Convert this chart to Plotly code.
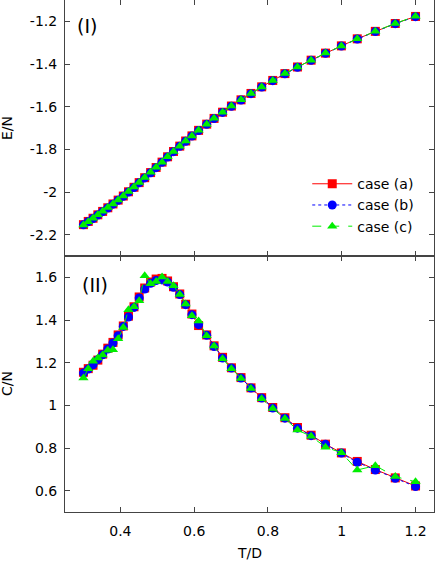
from plotly.subplots import make_subplots

# temperatures (T/D)
T = [0.300, 0.313, 0.326, 0.339, 0.352, 0.366, 0.380, 0.394, 0.408, 0.422,
     0.437, 0.451, 0.466, 0.482, 0.497, 0.513, 0.528, 0.544, 0.561, 0.577,
     0.594, 0.612, 0.634, 0.654, 0.677, 0.701, 0.727, 0.754, 0.783, 0.813,
     0.846, 0.880, 0.917, 0.956, 0.999, 1.042, 1.091, 1.145, 1.200]

# energy per spin
E_a = [-2.153, -2.138, -2.123, -2.107, -2.091, -2.074, -2.056, -2.038, -2.019, -1.999,
       -1.978, -1.956, -1.933, -1.909, -1.885, -1.860, -1.835, -1.810, -1.785, -1.761,
       -1.737, -1.711, -1.682, -1.655, -1.626, -1.597, -1.568, -1.538, -1.507, -1.477,
       -1.445, -1.414, -1.382, -1.349, -1.315, -1.282, -1.247, -1.210, -1.177]
E_b = [-2.154, -2.139, -2.124, -2.108, -2.092, -2.075, -2.057, -2.039, -2.020, -2.000,
       -1.979, -1.957, -1.934, -1.910, -1.886, -1.861, -1.836, -1.811, -1.786, -1.762,
       -1.738, -1.712, -1.683, -1.656, -1.627, -1.598, -1.569, -1.539, -1.508, -1.478,
       -1.446, -1.415, -1.383, -1.350, -1.316, -1.283, -1.248, -1.211, -1.178]
E_c = [-2.155, -2.139, -2.123, -2.107, -2.090, -2.073, -2.056, -2.038, -2.019, -1.998,
       -1.977, -1.955, -1.932, -1.908, -1.884, -1.860, -1.835, -1.810, -1.785, -1.761,
       -1.737, -1.711, -1.682, -1.654, -1.626, -1.597, -1.568, -1.538, -1.508, -1.477,
       -1.445, -1.414, -1.382, -1.349, -1.316, -1.282, -1.246, -1.210, -1.176]

# specific heat per spin
C_a = [1.155, 1.172, 1.188, 1.212, 1.240, 1.268, 1.295, 1.330, 1.372, 1.418,
       1.462, 1.508, 1.550, 1.578, 1.592, 1.595, 1.583, 1.556, 1.522, 1.474,
       1.428, 1.374, 1.330, 1.279, 1.225, 1.176, 1.130, 1.082, 1.036, 0.990,
       0.942, 0.896, 0.860, 0.818, 0.777, 0.737, 0.699, 0.660, 0.622]
C_b = [1.151, 1.170, 1.190, 1.214, 1.237, 1.264, 1.292, 1.326, 1.370, 1.414,
       1.459, 1.503, 1.545, 1.572, 1.585, 1.588, 1.578, 1.553, 1.519, 1.472,
       1.425, 1.378, 1.328, 1.276, 1.222, 1.175, 1.128, 1.081, 1.034, 0.987,
       0.940, 0.893, 0.858, 0.817, 0.776, 0.733, 0.697, 0.658, 0.619]
C_c = [1.128, 1.172, 1.207, 1.222, 1.236, 1.258, 1.260, 1.312, 1.365, 1.448,
       1.462, 1.490, 1.608, 1.570, 1.581, 1.602, 1.581, 1.561, 1.519, 1.475,
       1.420, 1.395, 1.326, 1.278, 1.218, 1.172, 1.126, 1.079, 1.031, 0.985,
       0.938, 0.884, 0.855, 0.804, 0.778, 0.697, 0.717, 0.666, 0.642]

x_ticks = [0.4, 0.6, 0.8, 1.0, 1.2]
x_ticktext = ["0.4", "0.6", "0.8", "1", "1.2"]
e_ticks = [-2.2, -2.0, -1.8, -1.6, -1.4, -1.2]
e_ticktext = ["-2.2", "-2", "-1.8", "-1.6", "-1.4", "-1.2"]
c_ticks = [0.6, 0.8, 1.0, 1.2, 1.4, 1.6]
c_ticktext = ["0.6", "0.8", "1", "1.2", "1.4", "1.6"]

FONT = "DejaVu Sans"
AXIS = "#444"

fig = make_subplots(2, 1, shared_xaxes=True, vertical_spacing=0)

series = [
    ("case (a)", E_a, C_a, "#ff0000", "solid", "square"),
    ("case (b)", E_b, C_b, "#0000ff", "dot", "circle"),
    ("case (c)", E_c, C_c, "#00ee00", "dash", "triangle-up"),
]
for name, E, C, color, dash, symbol in series:
    style = dict(
        mode="lines+markers",
        line={"color": color, "width": 1, "dash": dash},
        marker={"symbol": symbol, "size": 9, "color": color, "line_width": 0},
        name=name,
    )
    fig.add_scatter(x=T, y=E, row=1, col=1, showlegend=True, **style)
    fig.add_scatter(x=T, y=C, row=2, col=1, showlegend=False, **style)

axis_style = dict(
    showline=True,
    linecolor=AXIS,
    linewidth=1,
    mirror="ticks",
    ticks="inside",
    ticklen=5,
    tickcolor=AXIS,
    showgrid=False,
    zeroline=False,
    tickfont={"family": FONT, "size": 14, "color": "black"},
)

fig.update_xaxes(range=[0.25, 1.25], tickvals=x_ticks, ticktext=x_ticktext,
                 ticklabelstandoff=6, **axis_style)
fig.update_yaxes(row=1, col=1, range=[-2.3, -1.1], tickvals=e_ticks,
                 ticktext=e_ticktext, ticklabelstandoff=4, **axis_style)
fig.update_yaxes(row=2, col=1, range=[0.5, 1.7], tickvals=c_ticks,
                 ticktext=c_ticktext, ticklabelstandoff=4, **axis_style)

label_font = {"family": FONT, "size": 14, "color": "black"}
fig.add_annotation(xref="paper", yref="paper", x=-0.157, y=0.75, text="E/N",
                   textangle=-90, showarrow=False, font=label_font,
                   xanchor="center", yanchor="middle")
fig.add_annotation(xref="paper", yref="paper", x=-0.157, y=0.25, text="C/N",
                   textangle=-90, showarrow=False, font=label_font,
                   xanchor="center", yanchor="middle")
fig.add_annotation(xref="paper", yref="paper", x=0.5, y=-0.08, text="T/D",
                   showarrow=False, font=label_font,
                   xanchor="center", yanchor="middle")

panel_font = {"family": FONT, "size": 19, "color": "black"}
fig.add_annotation(xref="x domain", yref="y domain", x=0.028, y=0.9,
                   xanchor="left", yanchor="middle", text="(I)",
                   showarrow=False, font=panel_font)
fig.add_annotation(xref="x2 domain", yref="y2 domain", x=0.04, y=0.887,
                   xanchor="left", yanchor="middle", text="(II)",
                   showarrow=False, font=panel_font)

fig.update_layout(
    width=436,
    height=562,
    margin={"t": 0, "b": 50, "l": 65, "r": 2},
    plot_bgcolor="white",
    paper_bgcolor="white",
    font={"family": FONT, "size": 14, "color": "black"},
    legend={
        "x": 0.96,
        "y": 0.527,
        "xanchor": "right",
        "yanchor": "bottom",
        "bgcolor": "rgba(0,0,0,0)",
        "font": {"family": FONT, "size": 14},
        "itemwidth": 40,
        "tracegroupgap": 0,
    },
)

# page body has an 8px default margin; drop it so the figure sits at 0,0
fig.write_html(
    "out.html",
    config={"displayModeBar": False},
    post_script="document.body.style.margin='0px';",
)
